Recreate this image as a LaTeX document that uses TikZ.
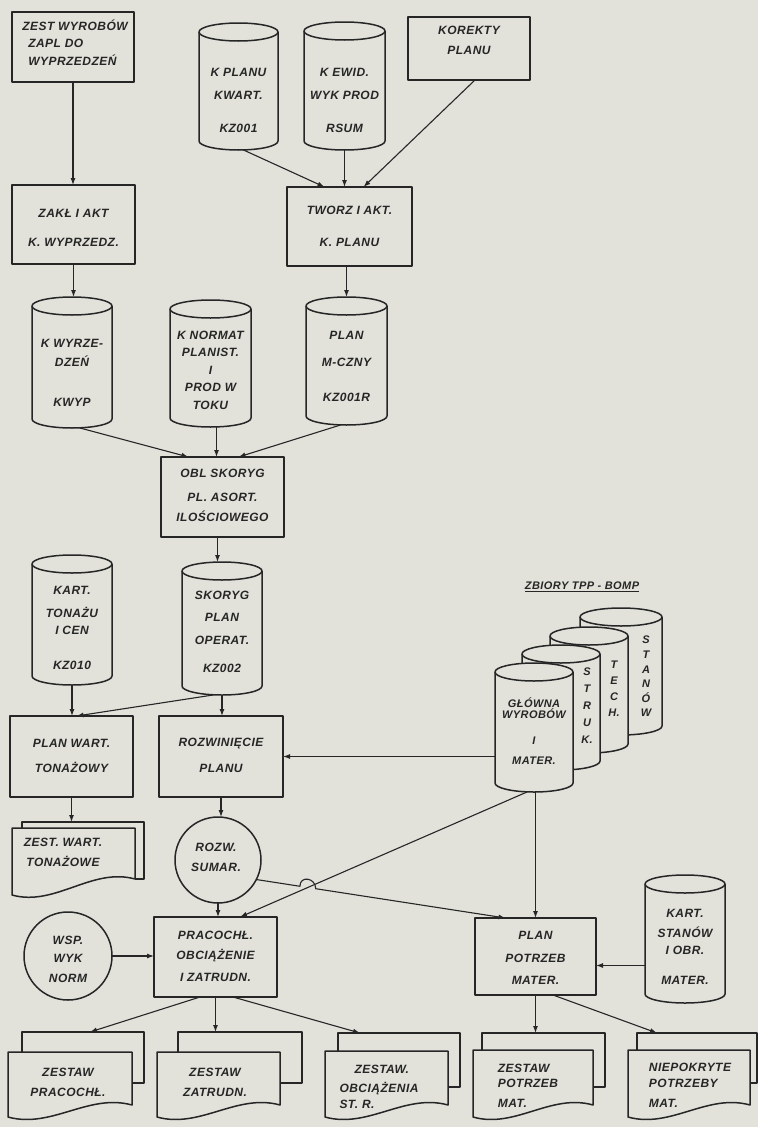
\documentclass[tikz,border=0pt]{standalone}
\usepackage{fontspec}
\setmainfont{Liberation Sans}[LetterSpace=4]
\usetikzlibrary{arrows.meta,calc,intersections}
\definecolor{paper}{RGB}{226,226,219}
\definecolor{ink}{RGB}{38,38,38}
\tikzset{
  shapeline/.style={draw=ink,line width=1.5pt,line join=round},
  box/.style={rectangle,shapeline,fill=paper,inner sep=0pt,outer sep=0pt},
  anchornode/.style={rectangle,draw=none,inner sep=0pt,outer sep=0pt},
  circ/.style={circle,shapeline,fill=paper,inner sep=0pt,outer sep=0pt},
  txt/.style={inner sep=0pt,text=ink,align=center,font=\fontsize{12}{14}\selectfont\bfseries\itshape},
  stxt/.style={inner sep=0pt,text=ink,align=center,font=\fontsize{11}{11}\selectfont\bfseries\itshape},
  arr/.style={draw=ink,line width=1.1pt,-{Latex[length=7pt,width=5pt]}},
}
% cylinder: name, x1, x2, ytop, ybot, ry
\newcommand{\cylshape}[6]{%
  \filldraw[shapeline,fill=paper] (#2,#4+#6) -- (#2,#5-#6)
     arc[start angle=180,end angle=0,x radius={(#3-#2)/2},y radius=#6]
     -- (#3,#4+#6)
     arc[start angle=0,end angle=-180,x radius={(#3-#2)/2},y radius=#6] -- cycle;
  \draw[shapeline] (#2,#4+#6) arc[start angle=180,end angle=0,x radius={(#3-#2)/2},y radius=#6];
  \node[anchornode,minimum width={(#3-#2)*1pt},minimum height={(#5-#4)*1pt}] (#1) at ({(#2+#3)/2},{(#4+#5)/2}) {};
}
% back page of document: name, bx1, bx2, btop, bjoin, fx2, ftop
\newcommand{\docback}[7]{%
  \draw[shapeline] (#2,#7) -- (#2,#4) -- (#3,#4) -- (#3,#5) -- (#6,#5);
  \node[anchornode,minimum width={(#3-#2)*1pt},minimum height={(#5-#4)*1pt}] (#1) at ({(#2+#3)/2},{(#4+#5)/2}) {};
}
% front page: fx1, fx2, ftop, fbL, fbR
\newcommand{\docfront}[5]{%
  \filldraw[shapeline,fill=paper] (#1,#3) -- (#2,#3) -- (#2,#5)
     .. controls ({#2-0.35*(#2-#1)},{#5-12}) and ({#1+0.35*(#2-#1)},{#4+12}) .. (#1,#4) -- cycle;
}
\begin{document}
\begin{tikzpicture}[x=1pt,y=-1pt]
\fill[paper] (0,0) rectangle (758,1127);
\useasboundingbox (0,0) rectangle (758,1127);

% ---------- boxes ----------
\node[box,minimum width=122pt,minimum height=70pt] (zest) at (73,47) {};
\node[box,minimum width=122pt,minimum height=63pt] (korekty) at (469,48.5) {};
\node[box,minimum width=123pt,minimum height=79pt] (zakl) at (73.5,224.5) {};
\node[box,minimum width=125pt,minimum height=79pt] (tworz) at (349.5,226.5) {};
\node[box,minimum width=123pt,minimum height=80pt] (obl) at (222.5,497) {};
\node[box,minimum width=123pt,minimum height=81pt] (planwart) at (71.5,756.5) {};
\node[box,minimum width=124pt,minimum height=81pt] (rozw) at (221,756.5) {};
\node[box,minimum width=123pt,minimum height=80pt] (pracoch) at (215.5,957) {};
\node[box,minimum width=121pt,minimum height=77pt] (planpot) at (535.5,956.5) {};

% ---------- cylinders ----------
\cylshape{kplanu}{199}{278}{23}{150}{9}
\cylshape{rsum}{304}{385}{22}{150}{9}
\cylshape{kwyp}{32}{112}{297}{428}{9}
\cylshape{knormat}{170}{251}{300}{427}{9}
\cylshape{plmc}{306}{387}{297}{425}{9}
\cylshape{kton}{32}{112}{555}{685}{9}
\cylshape{skoryg}{182}{262}{562}{695}{9}
\cylshape{stanow}{580}{662}{608}{735}{9}
\cylshape{tech}{550}{628}{627}{753}{9}
\cylshape{struk}{522}{600}{645}{770}{9}
\cylshape{glowna}{495}{573}{663}{792}{9}
\cylshape{kstan}{645}{725}{875}{1003}{9}

% ---------- circles ----------
\node[circ,minimum size=86pt] (rozwsum) at (218,860) {};
\node[circ,minimum size=88pt] (wsp) at (68,956) {};

% ---------- documents ----------
\docback{zw}{22}{144}{822}{879}{135}{828}
\docfront{12}{135}{828}{895}{879}
\docback{zp}{22}{144}{1032}{1083}{132}{1052}
\docfront{8}{132}{1052}{1117}{1105}
\docback{zz}{178}{302}{1032}{1083}{280}{1052}
\docfront{157}{280}{1052}{1117}{1105}
\docback{zo}{338}{460}{1033}{1087}{448}{1051}
\docfront{325}{448}{1051}{1117}{1105}
\docback{zpm}{482}{605}{1033}{1087}{593}{1050}
\docfront{473}{593}{1050}{1117}{1105}
\docback{zn}{637}{757}{1033}{1083}{750}{1050}
\docfront{628}{750}{1050}{1117}{1105}

% ---------- texts ----------
\node[txt,align=left] (zest-t) at (75,42.5) {ZEST WYROBÓW\\[3pt]\hspace*{6pt}ZAPL DO\\[4pt]\hspace*{6pt}WYPRZEDZEŃ};
\node[txt] (korekty-t) at (469,40) {KOREKTY\\[6pt]PLANU};
\node[txt] (kplanu-t) at (238.5,100) {K PLANU\\[9pt]KWART.\\[19pt]KZ001};
\node[txt] (rsum-t) at (344.5,100) {K EWID.\\[9pt]WYK PROD\\[19pt]RSUM};
\node[txt] (zakl-t) at (73.5,227.5) {ZAKŁ I AKT\\[15pt]K. WYPRZEDZ.};
\node[txt] (tworz-t) at (349.5,226) {TWORZ I AKT.\\[18pt]K. PLANU};
\node[txt] (kwyp-t) at (72,372.5) {K WYRZE-\\[5pt]DZEŃ\\[26pt]KWYP};
\node[txt] (knormat-t) at (210.5,370) {K NORMAT\\[3.5pt]PLANIST.\\[3.5pt]I\\[3.5pt]PROD W\\[3.5pt]TOKU};
\node[txt] (plmc-t) at (346.5,366) {PLAN\\[13pt]M-CZNY\\[21pt]KZ001R};
\node[txt] (obl-t) at (222.5,495) {OBL SKORYG\\[10pt]PL. ASORT.\\[6pt]ILOŚCIOWEGO};
\node[txt] (kton-t) at (72,627.5) {KART.\\[9pt]TONAŻU\\[3pt]I CEN\\[21pt]KZ010};
\node[txt] (skoryg-t) at (222,631.5) {SKORYG\\[8pt]PLAN\\[9pt]OPERAT.\\[14pt]KZ002};
\node[txt] (planwart-t) at (71.5,755.5) {PLAN WART.\\[11pt]TONAŻOWY};
\node[txt] (rozw-t) at (221,755) {ROZWINIĘCIE\\[12pt]PLANU};
\node[txt] (zw-t) at (63,852) {ZEST. WART.\\[6pt]TONAŻOWE};
\node[txt] (rozwsum-t) at (216,857) {ROZW.\\[6pt]SUMAR.};
\node[txt] (wsp-t) at (68,959) {WSP.\\[4pt]WYK\\[6pt]NORM};
\node[txt] (pracoch-t) at (215.5,956) {PRACOCHŁ.\\[6pt]OBCIĄŻENIE\\[8pt]I ZATRUDN.};
\node[txt] (planpot-t) at (535.5,957.5) {PLAN\\[9pt]POTRZEB\\[8pt]MATER.};
\node[txt] (kstan-t) at (685,946.5) {KART.\\[6pt]STANÓW\\[3pt]I OBR.\\[16pt]MATER.};
\node[stxt] (glowna-t) at (534,731.5) {GŁÓWNA\\[0pt]WYROBÓW\\[15pt]I\\[9pt]MATER.};
\node[stxt] (struk-t) at (587,706) {S\\[6pt]T\\[6pt]R\\[6pt]U\\[6pt]K.};
\node[stxt] (tech-t) at (614,689) {T\\[5pt]E\\[5pt]C\\[5pt]H.};
\node[stxt] (stanow-t) at (646,676.5) {S\\[3.6pt]T\\[3.6pt]A\\[3.6pt]N\\[3.6pt]Ó\\[3.6pt]W};
\node[stxt] (zbiory-t) at (582,587) {\underline{ZBIORY TPP - BOMP}};
\node[txt] (zp-t) at (68,1082) {ZESTAW\\[6pt]PRACOCHŁ.};
\node[txt] (zz-t) at (215,1082) {ZESTAW\\[6pt]ZATRUDN.};
\node[txt,align=left] (zo-t) at (379,1086.5) {\hspace*{15pt}ZESTAW.\\[5pt]OBCIĄŻENIA\\[2pt]ST. R.};
\node[txt,align=left] (zpm-t) at (528,1085.5) {ZESTAW\\[1pt]POTRZEB\\[6pt]MAT.};
\node[txt,align=left] (zn-t) at (690,1085) {NIEPOKRYTE\\[2pt]POTRZEBY\\[6pt]MAT.};

% ---------- connectors ----------
\draw[arr] (zest.south) -- (zest.south |- zakl.north);
\draw[arr] ([xshift=5pt]kplanu.south) -- ([xshift=-25pt]tworz.north);
\draw[arr] (rsum.south) -- (rsum.south |- tworz.north);
\draw[arr] ([xshift=6pt]korekty.south) -- ([xshift=14pt]tworz.north);
\draw[arr] (zakl.south) -- (zakl.south |- kwyp.north);
\draw[arr] (plmc.north |- tworz.south) -- (plmc.north);
\draw[arr] ([xshift=8pt]kwyp.south) -- ([xshift=-34pt]obl.north);
\draw[arr] ([xshift=6pt]knormat.south) -- ([xshift=6pt]knormat.south |- obl.north);
\draw[arr] ([xshift=-6pt]plmc.south) -- ([xshift=16pt]obl.north);
\draw[arr] ([xshift=-5pt]obl.south) -- ([xshift=-5pt]obl.south |- skoryg.north);
\draw[arr] (kton.south) -- (kton.south |- planwart.north);
\draw[arr] ([xshift=-9pt]skoryg.south) -- ([xshift=5pt]planwart.north);
\draw[arr] (skoryg.south) -- (skoryg.south |- rozw.north);
\draw[arr] (rozw.east -| glowna.west) -- (rozw.east);
\draw[arr] (planwart.south) -- (planwart.south |- zw.north);
\draw[arr] (rozw.south) -- (rozw.south |- rozwsum.north);
\draw[arr,name path=q] ([xshift=-7pt]glowna.south) -- ([xshift=24.5pt]pracoch.north);
\path[name path=r] (rozwsum.-27) -- ([xshift=-30pt]planpot.north);
\path[name intersections={of=q and r,by=hop}];
\draw[arr] (rozwsum.-27) -- ($(hop)!8pt!(rozwsum.-27)$)
   .. controls +(0,-11) and +(0,-11) .. ($(hop)!8pt!([xshift=-30pt]planpot.north)$)
   -- ([xshift=-30pt]planpot.north);
\draw[arr] (planpot.north |- glowna.south) -- (planpot.north);
\draw[arr] (wsp.east) -- (wsp.east -| pracoch.west);
\draw[arr] (rozwsum.south) -- (rozwsum.south |- pracoch.north);
\coordinate (vend) at ([yshift=-9pt]planpot.east);
\draw[arr] (vend -| kstan.west) -- (vend);
\draw[arr] ([xshift=-15.5pt]pracoch.south) -- ([xshift=7pt]zp.north);
\draw[arr] (pracoch.south) -- (pracoch.south |- zz.north);
\draw[arr] ([xshift=17.5pt]pracoch.south) -- ([xshift=-39pt]zo.north);
\draw[arr] (planpot.south) -- (planpot.south |- zpm.north);
\draw[arr] ([xshift=17.5pt]planpot.south) -- ([xshift=-40pt]zn.north);
\end{tikzpicture}
\end{document}
